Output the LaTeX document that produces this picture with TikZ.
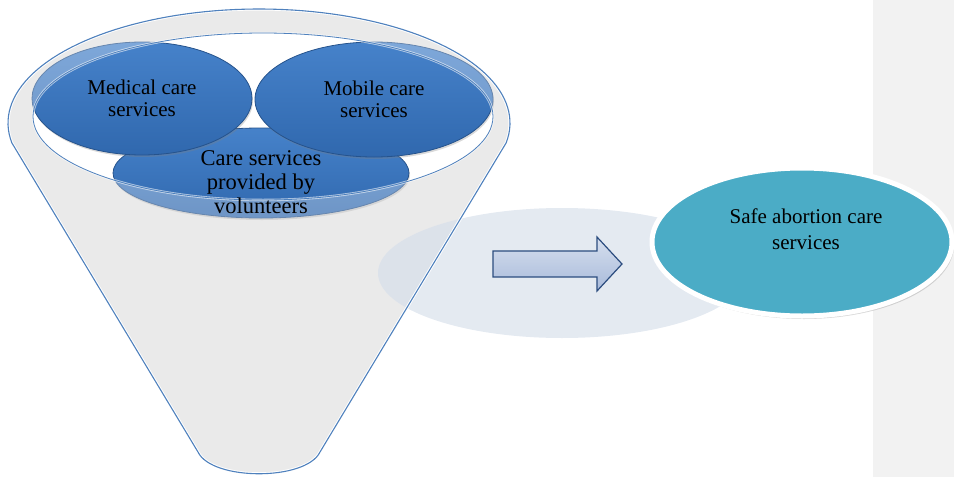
\documentclass[tikz,border=0pt]{standalone}
\usepackage{fontspec}
\setmainfont{Liberation Serif}
\usetikzlibrary{shapes.geometric,shadows}

\definecolor{bubbletop}{HTML}{4682CA}
\definecolor{bubblebot}{HTML}{3068AE}
\definecolor{bubbleedge}{HTML}{26538C}
\definecolor{funnelblue}{HTML}{4F81BD}
\definecolor{rimgrey}{HTML}{E1E1E1}
\definecolor{spot}{HTML}{D5DEEA}
\definecolor{stripgrey}{HTML}{F2F2F2}
\definecolor{aqua}{HTML}{4BACC6}
\definecolor{arrowtop}{HTML}{D6DFEE}
\definecolor{arrowbot}{HTML}{A8BADA}
\definecolor{arrowedge}{HTML}{2C4D7F}

% outline of the funnel: upper rim, two sides, round bottom
\newcommand{\funneloutline}{plot[domain=-10:190,samples=90] ({259+251*cos(\x)},{123-114*sin(\x)}) -- (198,452) .. controls (212,481) and (306,481) .. (320,452) -- cycle}

\tikzset{
  bubble/.style={ellipse, draw=bubbleedge, line width=0.8pt, top color=bubbletop, bottom color=bubblebot, inner sep=0pt,
    drop shadow={shadow xshift=1pt, shadow yshift=-2pt, opacity=0.3}},
  safe/.style={ellipse, fill=aqua, draw=white, line width=5pt, minimum width=300pt, minimum height=148pt, inner sep=0pt,
    drop shadow={shadow xshift=2pt, shadow yshift=-3pt, opacity=0.3}},
  lbl/.style={align=center, inner sep=0pt, font=\fontsize{21}{22}\selectfont},
}

\begin{document}
\begin{tikzpicture}[x=1pt,y=-1pt]
\useasboundingbox (0,0) rectangle (954,477);
% side panel
\fill[stripgrey] (873,0) rectangle (954,477);
% funnel body and rim
\fill[rimgrey, even odd rule] \funneloutline (263,116.5) ellipse [x radius=230pt, y radius=83.5pt];
% bubbles in the funnel
\foreach \nm/\cx/\cy/\w/\h in {care/261/173/296/90, med/142/98.5/220/113, mob/374/99.5/238/115} {
    \node[bubble, minimum width=\w pt, minimum height=\h pt] (\nm) at (\cx,\cy) {};
}
% glassy rim over the bubbles
\fill[white, opacity=0.3, even odd rule] \funneloutline (263,116.5) ellipse [x radius=230pt, y radius=83.5pt];
% light spot behind the arrow
\fill[spot, opacity=0.65] (562,273) ellipse [x radius=184pt, y radius=65pt];
% funnel lines
\draw[white, line width=3pt] \funneloutline;
\draw[funnelblue, line width=1.1pt] \funneloutline;
\draw[white, opacity=0.6, line width=2.5pt] (263,116.5) ellipse [x radius=230pt, y radius=83.5pt];
\draw[funnelblue, line width=0.8pt] (263,116.5) ellipse [x radius=230pt, y radius=83.5pt];
% labels of the bubbles
\node[lbl] (medtxt) at (med.center) {Medical care\\services};
\node[lbl] (mobtxt) at (mob.center) {Mobile care\\services};
\node[lbl, font=\fontsize{22.5}{24}\selectfont] (caretxt) at (261,182) {Care services\\provided by\\volunteers};
% block arrow
\draw[arrowedge, line width=1.2pt, top color=arrowtop, bottom color=arrowbot]
    (493,251) -- (597,251) -- (597,237) -- (622,264) -- (597,291) -- (597,277) -- (493,277) -- cycle;
% result
\node[safe] (safe) at (802,242) {};
\node[lbl, font=\fontsize{21}{26}\selectfont] (safetxt) at (806,229) {Safe abortion care\\services};
\end{tikzpicture}
\end{document}
